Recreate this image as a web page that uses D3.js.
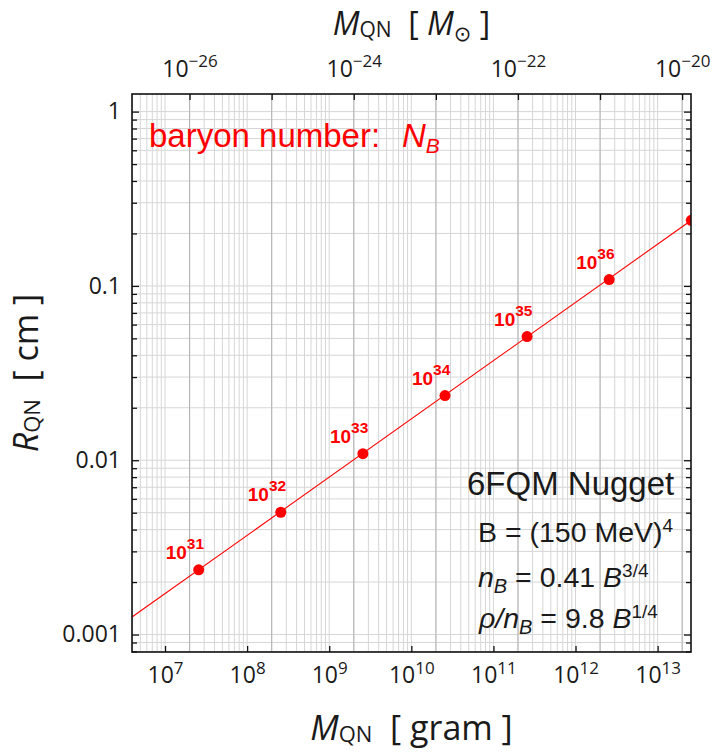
<!DOCTYPE html>
<html>
<head>
<meta charset="utf-8">
<script src="https://cdn.jsdelivr.net/npm/d3@7"></script>
<style>
body { margin: 0; background: #fff; }
svg { display: block; }
.tick text { font-family: "Open Sans", "Noto Sans", sans-serif; font-size: 23px; fill: #1a1a1a; }
.title { font-family: "Open Sans", "Noto Sans", sans-serif; font-size: 34px; fill: #1a1a1a; }
.note { font-family: "Liberation Sans", Arial, sans-serif; fill: #1a1a1a; }
</style>
</head>
<body>
<svg id="svg" width="714" height="755"></svg>
<script>
// quark nugget: one point per baryon number N_B = 10^31 ... 10^37
var baryonExponents = [31, 32, 33, 34, 35, 36, 37];
var massGram = [2.57e7, 2.57e8, 2.57e9, 2.57e10, 2.57e11, 2.57e12, 2.57e13];
var radiusCm = [0.00235, 0.00503, 0.0109, 0.0235, 0.0512, 0.1087, 0.238];
var labelledExponents = [31, 32, 33, 34, 35, 36];

var lineMassGram = [3.96e6, 2.57e13];
var lineRadiusCm = [0.00126, 0.238];

var bottomTickExponents = [7, 8, 9, 10, 11, 12, 13];
var topTickExponents = [-26, -25, -24, -23, -22, -21, -20];
var topLabelExponents = [-26, -24, -22, -20];
var leftTickValues = [1, 0.1, 0.01, 0.001];
var leftTickLabels = ['1', '0.1', '0.01', '0.001'];

var massDomain = [3.96e6, 2.55e13];
var radiusDomain = [7.94e-4, 1.262];
var solarMassGram = 1.989e33;

var dg = {};
dg.box = { left: 132, right: 691, top: 94, bottom: 652 };

function chart_init() {
    var svg = d3.select('#svg');
    dg.svg = svg;
    dg.x = d3.scaleLog().domain(massDomain).range([dg.box.left, dg.box.right]);
    dg.xTop = d3.scaleLog()
        .domain(massDomain.map(function(d) { return d / solarMassGram; }))
        .range([dg.box.left, dg.box.right]);
    dg.y = d3.scaleLog().domain(radiusDomain).range([dg.box.bottom, dg.box.top]);

    svg.append('defs').append('clipPath')
        .attr('id', 'plotClip')
        .append('rect')
        .attr('x', dg.box.left)
        .attr('y', dg.box.top)
        .attr('width', dg.box.right - dg.box.left)
        .attr('height', dg.box.bottom - dg.box.top);
}

function chart_grid() {
    var g = dg.svg.append('g').attr('clip-path', 'url(#plotClip)');
    g.selectAll('line.vgrid')
        .data(dg.x.ticks())
        .enter().append('line')
        .attr('class', 'vgrid')
        .attr('x1', function(d) { return dg.x(d); })
        .attr('x2', function(d) { return dg.x(d); })
        .attr('y1', dg.box.top)
        .attr('y2', dg.box.bottom)
        .attr('stroke', '#d6d6d6')
        .attr('stroke-width', 1);
    g.selectAll('line.hgrid')
        .data(dg.y.ticks())
        .enter().append('line')
        .attr('class', 'hgrid')
        .attr('x1', dg.box.left)
        .attr('x2', dg.box.right)
        .attr('y1', function(d) { return dg.y(d); })
        .attr('y2', function(d) { return dg.y(d); })
        .attr('stroke', '#d6d6d6')
        .attr('stroke-width', 1);
    g.selectAll('line.tgrid')
        .data(topTickExponents)
        .enter().append('line')
        .attr('class', 'tgrid')
        .attr('x1', function(d) { return dg.xTop(Math.pow(10, d)); })
        .attr('x2', function(d) { return dg.xTop(Math.pow(10, d)); })
        .attr('y1', dg.box.top)
        .attr('y2', dg.box.bottom)
        .attr('stroke', '#b4b4b4')
        .attr('stroke-width', 1);
}

function power_label(text, exponent, supSize, supShift) {
    text.text(null);
    text.append('tspan').text('10');
    text.append('tspan')
        .style('font-size', supSize)
        .attr('dy', -supShift)
        .text(String(exponent).replace('-', '\u2212'));
}

function chart_axes() {
    var svg = dg.svg;
    var majorY = leftTickValues;
    var minorY = dg.y.ticks().filter(function(d) {
        return majorY.every(function(m) { return Math.abs(m - d) / m > 1e-6; });
    });

    // bottom: decades of gram
    var bottom = svg.append('g')
        .attr('transform', 'translate(0,' + dg.box.bottom + ')')
        .call(d3.axisBottom(dg.x)
            .tickValues(bottomTickExponents.map(function(e) { return Math.pow(10, e); }))
            .tickSize(-6)
            .tickPadding(15));
    bottom.selectAll('.tick text').each(function(d, i) {
        power_label(d3.select(this), bottomTickExponents[i], '17px', 9);
    });

    // top: decades of solar mass
    var top = svg.append('g')
        .attr('transform', 'translate(0,' + dg.box.top + ')')
        .call(d3.axisTop(dg.xTop)
            .tickValues(topTickExponents.map(function(e) { return Math.pow(10, e); }))
            .tickSize(-6)
            .tickPadding(17));
    top.selectAll('.tick text').each(function(d, i) {
        var e = topTickExponents[i];
        if (topLabelExponents.indexOf(e) < 0) {
            d3.select(this).remove();
            return;
        }
        power_label(d3.select(this), e, '17px', 10);
    });

    // left
    var left = svg.append('g')
        .attr('transform', 'translate(' + dg.box.left + ',0)');
    left.call(d3.axisLeft(dg.y)
        .tickValues(majorY)
        .tickSize(-7)
        .tickPadding(11)
        .tickFormat(function(d, i) { return leftTickLabels[i]; }));
    left.append('g').call(d3.axisLeft(dg.y)
        .tickValues(minorY)
        .tickSize(-5)
        .tickFormat(''));

    // right
    var right = svg.append('g')
        .attr('transform', 'translate(' + dg.box.right + ',0)');
    right.call(d3.axisRight(dg.y).tickValues(majorY).tickSize(-7).tickFormat(''));
    right.append('g').call(d3.axisRight(dg.y).tickValues(minorY).tickSize(-5).tickFormat(''));

    svg.selectAll('.domain').remove();
    svg.selectAll('.tick line')
        .attr('stroke', '#111')
        .attr('stroke-width', 1.3);

    svg.append('rect')
        .attr('x', dg.box.left)
        .attr('y', dg.box.top)
        .attr('width', dg.box.right - dg.box.left)
        .attr('height', dg.box.bottom - dg.box.top)
        .attr('fill', 'none')
        .attr('stroke', '#111')
        .attr('stroke-width', 1.6);
}

function chart_series() {
    var g = dg.svg.append('g').attr('clip-path', 'url(#plotClip)');
    var linePoints = lineMassGram.map(function(m, i) { return [m, lineRadiusCm[i]]; });
    var line = d3.line()
        .x(function(d) { return dg.x(d[0]); })
        .y(function(d) { return dg.y(d[1]); });
    g.append('path')
        .datum(linePoints)
        .attr('d', line)
        .attr('fill', 'none')
        .attr('stroke', '#ff0000')
        .attr('stroke-width', 1.1);

    var points = baryonExponents.map(function(e, i) {
        return { exp: e, m: massGram[i], r: radiusCm[i] };
    });
    g.selectAll('circle')
        .data(points)
        .enter().append('circle')
        .attr('cx', function(d) { return dg.x(d.m); })
        .attr('cy', function(d) { return dg.y(d.r); })
        .attr('r', 5.5)
        .attr('fill', '#ff0000');

    var labels = dg.svg.append('g')
        .selectAll('text')
        .data(points.filter(function(d) { return labelledExponents.indexOf(d.exp) >= 0; }))
        .enter().append('text')
        .attr('x', function(d) { return dg.x(d.m) - 33; })
        .attr('y', function(d) { return dg.y(d.r) - 11; })
        .attr('font-family', '"Liberation Sans", Arial, sans-serif')
        .attr('font-weight', 'bold')
        .style('font-size', '19px')
        .attr('fill', '#ff0000');
    labels.each(function(d) {
        power_label(d3.select(this), d.exp, '15.5px', 10);
    });
}

function chart_titles() {
    var svg = dg.svg;
    var cx = (dg.box.left + dg.box.right) / 2;

    var bt = svg.append('text')
        .attr('class', 'title')
        .attr('x', cx)
        .attr('y', 740)
        .attr('text-anchor', 'middle');
    bt.append('tspan').attr('font-style', 'italic').text('M');
    bt.append('tspan').style('font-size', '22px').attr('dy', 2).text('QN');
    bt.append('tspan').attr('dy', -2).text('\u00a0\u00a0[ gram ]');

    var tt = svg.append('text')
        .attr('class', 'title')
        .attr('x', cx)
        .attr('y', 35)
        .attr('text-anchor', 'middle')
        .style('font-size', '32px');
    tt.append('tspan').attr('font-style', 'italic').text('M');
    tt.append('tspan').style('font-size', '21px').attr('dy', 2).text('QN');
    tt.append('tspan').attr('dy', -2).text('\u00a0\u00a0[ ');
    tt.append('tspan').attr('font-style', 'italic').text('M');
    tt.append('tspan').style('font-size', '21px').attr('dy', 6)
        .style('font-family', '"DejaVu Sans", sans-serif').text('\u2299');
    tt.append('tspan').attr('dy', -6).text(' ]');

    var lt = svg.append('text')
        .attr('class', 'title')
        .attr('transform', 'translate(38,373) rotate(-90)')
        .attr('text-anchor', 'middle');
    lt.append('tspan').attr('font-style', 'italic').text('R');
    lt.append('tspan').style('font-size', '22px').attr('dy', 2).text('QN');
    lt.append('tspan').attr('dy', -2).text('\u00a0\u00a0[ cm ]');
}

function chart_notes() {
    var svg = dg.svg;

    var nb = svg.append('text')
        .attr('class', 'note')
        .attr('x', 149)
        .attr('y', 147)
        .style('font-size', '33px')
        .style('fill', '#ff0000');
    nb.append('tspan').text('baryon number:');
    nb.append('tspan').attr('x', 402).attr('font-style', 'italic').text('N');
    nb.append('tspan').attr('font-style', 'italic').style('font-size', '21px').attr('dy', 6).text('B');

    svg.append('text')
        .attr('class', 'note')
        .attr('x', 467)
        .attr('y', 495)
        .style('font-size', '33px')
        .text('6FQM Nugget');

    var b = svg.append('text')
        .attr('class', 'note')
        .attr('x', 478)
        .attr('y', 542)
        .style('font-size', '28.5px');
    b.append('tspan').text('B = (150 MeV)');
    b.append('tspan').style('font-size', '19px').attr('dy', -10).text('4');

    var n = svg.append('text')
        .attr('class', 'note')
        .attr('x', 478)
        .attr('y', 587)
        .style('font-size', '28.5px');
    n.append('tspan').attr('font-style', 'italic').text('n');
    n.append('tspan').attr('font-style', 'italic').style('font-size', '20px').attr('dy', 6).text('B');
    n.append('tspan').attr('dy', -6).text(' = 0.41 ');
    n.append('tspan').attr('font-style', 'italic').text('B');
    n.append('tspan').style('font-size', '19px').attr('dy', -10).text('3/4');

    var r = svg.append('text')
        .attr('class', 'note')
        .attr('x', 479)
        .attr('y', 628)
        .style('font-size', '28.5px');
    r.append('tspan').attr('font-style', 'italic').text('\u03c1/n');
    r.append('tspan').attr('font-style', 'italic').style('font-size', '20px').attr('dy', 6).text('B');
    r.append('tspan').attr('dy', -6).text(' = 9.8 ');
    r.append('tspan').attr('font-style', 'italic').text('B');
    r.append('tspan').style('font-size', '19px').attr('dy', -10).text('1/4');
}

chart_init();
chart_grid();
chart_series();
chart_axes();
chart_titles();
chart_notes();
</script>
</body>
</html>
